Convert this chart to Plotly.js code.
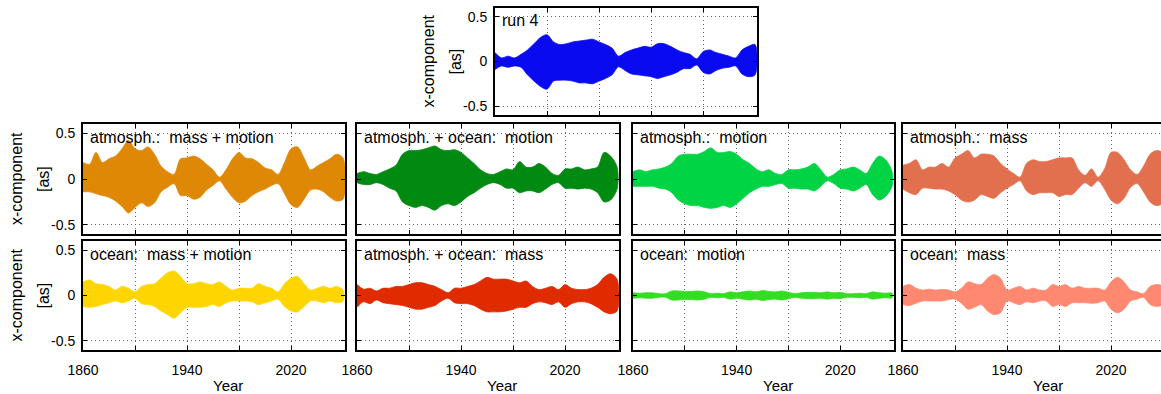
<!DOCTYPE html>
<html><head><meta charset="utf-8">
<script src="https://cdn.plot.ly/plotly-3.0.1.min.js"></script>
<style>html,body{margin:0;padding:0;overflow:hidden;background:#fff}#chart{width:1170px;height:394px}</style>
</head><body><div id="chart"></div>
<script>
// ---- data (envelope of the x-component signal) ----
const years = [1860,1865,1870,1875,1880,1885,1890,1895,1900,1905,1910,1915,1920,1925,1930,1935,1940,1945,1950,1955,1960,1965,1970,1975,1980,1985,1990,1995,2000,2005,2010,2015,2020,2025,2030,2035,2040,2045,2050,2055,2060];

const run4Upper = [0.10,0.04,0.06,0.04,0.08,0.13,0.20,0.27,0.30,0.22,0.19,0.20,0.22,0.23,0.24,0.25,0.22,0.19,0.15,0.06,0.10,0.13,0.15,0.17,0.16,0.20,0.20,0.17,0.13,0.10,0.08,0.03,0.11,0.13,0.10,0.08,0.06,0.04,0.13,0.17,0.19];
const run4Lower = [-0.09,-0.05,-0.065,-0.05,-0.065,-0.15,-0.22,-0.28,-0.31,-0.22,-0.21,-0.21,-0.22,-0.24,-0.24,-0.25,-0.22,-0.19,-0.15,-0.06,-0.10,-0.14,-0.15,-0.16,-0.17,-0.19,-0.17,-0.15,-0.12,-0.08,-0.08,-0.04,-0.12,-0.14,-0.10,-0.075,-0.065,-0.05,-0.14,-0.17,-0.15];

const atmMassMotionUpper = [0.18,0.16,0.29,0.18,0.22,0.25,0.33,0.42,0.33,0.31,0.35,0.27,0.14,0.08,0.05,0.22,0.23,0.25,0.22,0.16,0.10,0.02,0.10,0.22,0.29,0.23,0.22,0.18,0.12,0.10,0.05,0.18,0.33,0.35,0.23,0.10,0.14,0.18,0.22,0.27,0.23];
const atmMassMotionLower = [-0.14,-0.14,-0.16,-0.18,-0.20,-0.24,-0.30,-0.37,-0.31,-0.26,-0.30,-0.26,-0.14,-0.09,-0.05,-0.18,-0.18,-0.22,-0.20,-0.12,-0.07,-0.02,-0.11,-0.20,-0.26,-0.24,-0.18,-0.14,-0.11,-0.07,-0.05,-0.16,-0.28,-0.31,-0.22,-0.12,-0.11,-0.14,-0.20,-0.24,-0.22];

const atmOcnMotionUpper = [0.06,0.08,0.06,0.05,0.08,0.11,0.15,0.27,0.31,0.31,0.32,0.34,0.36,0.32,0.31,0.32,0.29,0.23,0.17,0.10,0.06,0.05,0.08,0.11,0.10,0.19,0.13,0.13,0.17,0.13,0.06,0.04,0.11,0.11,0.13,0.10,0.11,0.13,0.29,0.25,0.13];
const atmOcnMotionLower = [-0.04,-0.06,-0.06,-0.04,-0.06,-0.10,-0.13,-0.25,-0.29,-0.31,-0.29,-0.31,-0.34,-0.29,-0.27,-0.29,-0.25,-0.19,-0.15,-0.10,-0.06,-0.04,-0.06,-0.10,-0.10,-0.15,-0.13,-0.13,-0.15,-0.11,-0.06,-0.04,-0.10,-0.10,-0.11,-0.10,-0.11,-0.15,-0.25,-0.23,-0.11];

const atmMotionUpper = [0.08,0.10,0.08,0.10,0.11,0.13,0.17,0.25,0.27,0.27,0.27,0.30,0.34,0.29,0.29,0.30,0.27,0.21,0.17,0.11,0.08,0.10,0.06,0.05,0.10,0.10,0.11,0.13,0.17,0.10,0.02,0.05,0.10,0.11,0.13,0.10,0.06,0.17,0.25,0.21,0.08];
const atmMotionLower = [-0.08,-0.08,-0.08,-0.08,-0.10,-0.11,-0.15,-0.23,-0.27,-0.29,-0.29,-0.31,-0.32,-0.31,-0.29,-0.31,-0.27,-0.21,-0.15,-0.11,-0.08,-0.08,-0.06,-0.05,-0.10,-0.10,-0.11,-0.11,-0.13,-0.08,-0.02,-0.05,-0.10,-0.11,-0.13,-0.10,-0.06,-0.17,-0.23,-0.19,-0.08];

const atmMassUpper = [0.15,0.17,0.21,0.10,0.13,0.13,0.17,0.13,0.23,0.27,0.31,0.23,0.27,0.27,0.25,0.17,0.11,0.06,0.02,0.17,0.21,0.19,0.19,0.21,0.23,0.23,0.23,0.10,0.04,0.11,0.02,0.11,0.29,0.29,0.21,0.10,0.05,0.14,0.27,0.31,0.28];
const atmMassLower = [-0.11,-0.15,-0.17,-0.10,-0.10,-0.11,-0.11,-0.13,-0.17,-0.23,-0.25,-0.23,-0.17,-0.19,-0.21,-0.15,-0.10,-0.06,-0.02,-0.13,-0.17,-0.15,-0.15,-0.15,-0.19,-0.17,-0.17,-0.10,-0.04,-0.08,-0.02,-0.11,-0.23,-0.27,-0.21,-0.09,-0.05,-0.14,-0.25,-0.29,-0.26];

const ocnMassMotionUpper = [0.15,0.17,0.13,0.12,0.10,0.06,0.10,0.08,0.04,0.10,0.12,0.13,0.19,0.25,0.27,0.21,0.13,0.13,0.15,0.13,0.12,0.15,0.10,0.06,0.08,0.08,0.08,0.13,0.10,0.08,0.04,0.13,0.19,0.21,0.13,0.06,0.08,0.10,0.08,0.10,0.06];
const ocnMassMotionLower = [-0.12,-0.13,-0.12,-0.10,-0.08,-0.06,-0.08,-0.06,-0.03,-0.09,-0.10,-0.12,-0.17,-0.21,-0.25,-0.19,-0.13,-0.13,-0.13,-0.12,-0.10,-0.12,-0.08,-0.06,-0.06,-0.06,-0.07,-0.10,-0.08,-0.06,-0.04,-0.12,-0.17,-0.18,-0.12,-0.06,-0.06,-0.08,-0.06,-0.08,-0.06];

const atmOcnMassUpper = [0.12,0.07,0.08,0.05,0.08,0.08,0.10,0.10,0.12,0.14,0.14,0.12,0.10,0.065,0.03,0.08,0.08,0.10,0.12,0.16,0.20,0.18,0.18,0.18,0.16,0.14,0.16,0.10,0.065,0.08,0.10,0.065,0.12,0.08,0.065,0.065,0.08,0.12,0.20,0.24,0.18];
const atmOcnMassLower = [-0.13,-0.07,-0.09,-0.05,-0.08,-0.09,-0.10,-0.11,-0.13,-0.15,-0.15,-0.13,-0.11,-0.06,-0.03,-0.08,-0.09,-0.09,-0.11,-0.15,-0.18,-0.18,-0.18,-0.17,-0.15,-0.13,-0.13,-0.09,-0.07,-0.08,-0.10,-0.07,-0.13,-0.09,-0.07,-0.07,-0.09,-0.13,-0.18,-0.20,-0.17];

const ocnMotionUpper = [0.03,0.025,0.03,0.03,0.02,0.02,0.05,0.05,0.045,0.045,0.05,0.04,0.02,0.025,0.02,0.04,0.03,0.04,0.05,0.04,0.055,0.045,0.04,0.05,0.035,0.02,0.03,0.035,0.035,0.03,0.04,0.03,0.035,0.02,0.02,0.025,0.02,0.04,0.03,0.025,0.025];
const ocnMotionLower = [-0.03,-0.025,-0.03,-0.03,-0.02,-0.02,-0.05,-0.05,-0.045,-0.045,-0.05,-0.04,-0.02,-0.025,-0.02,-0.04,-0.03,-0.04,-0.05,-0.04,-0.055,-0.045,-0.04,-0.05,-0.035,-0.02,-0.03,-0.035,-0.035,-0.03,-0.04,-0.03,-0.035,-0.02,-0.02,-0.025,-0.02,-0.04,-0.03,-0.025,-0.025];

const ocnMassUpper = [0.10,0.12,0.08,0.06,0.07,0.06,0.065,0.06,0.04,0.08,0.15,0.13,0.12,0.19,0.23,0.19,0.06,0.08,0.10,0.06,0.08,0.06,0.06,0.12,0.10,0.12,0.08,0.10,0.08,0.08,0.08,0.06,0.15,0.20,0.15,0.06,0.04,0.02,0.10,0.12,0.10];
const ocnMassLower = [-0.10,-0.11,-0.085,-0.06,-0.06,-0.06,-0.06,-0.045,-0.04,-0.085,-0.15,-0.13,-0.10,-0.17,-0.21,-0.19,-0.06,-0.08,-0.10,-0.07,-0.08,-0.06,-0.06,-0.12,-0.10,-0.12,-0.08,-0.08,-0.08,-0.085,-0.08,-0.06,-0.15,-0.19,-0.15,-0.06,-0.04,-0.02,-0.10,-0.12,-0.10];

const panelLabels = ['run 4','atmosph.:\u00a0 mass + motion','atmosph. + ocean:\u00a0 motion','atmosph.:\u00a0 motion','atmosph.:\u00a0 mass','ocean:\u00a0 mass + motion','atmosph. + ocean:\u00a0 mass','ocean:\u00a0 motion','ocean:\u00a0 mass'];
const yTickValues = [-0.5, 0, 0.5];
const yTickLabels = ['-0.5', '0', '0.5'];
const xTickValues = [1860, 1900, 1940, 1980, 2020];
const xTickLabels = ['1860', '', '1940', '', '2020'];
const yLabelLine1 = 'x-component';
const yLabelLine2 = '[as]';
const xLabel = 'Year';

// ---- layout geometry ----
const W = 1170, H = 394;
const FONT = 'Liberation Sans, Arial, sans-serif';
const cols = [[83,345],[357,619],[633,894],[903,1165]];
const rowMid = [124,234], rowBot = [241,350], rowTop = [8,115];
const topCol = [495,757];

const series = [
  {up: run4Upper, lo: run4Lower, color: '#0a0af0', box: [topCol, rowTop], ylab: true, xlab: false},
  {up: atmMassMotionUpper, lo: atmMassMotionLower, color: '#de8805', box: [cols[0], rowMid], ylab: true, xlab: false},
  {up: atmOcnMotionUpper, lo: atmOcnMotionLower, color: '#008a12', box: [cols[1], rowMid], ylab: false, xlab: false},
  {up: atmMotionUpper, lo: atmMotionLower, color: '#00d444', box: [cols[2], rowMid], ylab: false, xlab: false},
  {up: atmMassUpper, lo: atmMassLower, color: '#e2704f', box: [cols[3], rowMid], ylab: false, xlab: false},
  {up: ocnMassMotionUpper, lo: ocnMassMotionLower, color: '#ffd500', box: [cols[0], rowBot], ylab: true, xlab: true},
  {up: atmOcnMassUpper, lo: atmOcnMassLower, color: '#e02a00', box: [cols[1], rowBot], ylab: false, xlab: true},
  {up: ocnMotionUpper, lo: ocnMotionLower, color: '#33dd22', box: [cols[2], rowBot], ylab: false, xlab: true},
  {up: ocnMassUpper, lo: ocnMassLower, color: '#ff8870', box: [cols[3], rowBot], ylab: false, xlab: true}
];

const traces = [];
const layout = {
  width: W, height: H, margin: {l:0, r:0, t:0, b:0},
  paper_bgcolor: '#fff', plot_bgcolor: '#fff', showlegend: false,
  font: {family: FONT, size: 14, color: '#000'},
  annotations: []
};

const common = {
  showline: true, linewidth: 2, linecolor: '#000', mirror: 'ticks',
  ticks: 'inside', ticklen: 4, tickwidth: 1, tickcolor: '#000',
  showgrid: true, gridcolor: '#666', gridwidth: 1, griddash: '1px,3px',
  zeroline: false, fixedrange: true,
  tickfont: {family: FONT, size: 14, color: '#000'}
};

series.forEach((s, i) => {
  const ax = i === 0 ? '' : String(i + 1);
  const [xb, yb] = s.box;
  traces.push({
    type: 'scatter', mode: 'lines',
    x: years.concat(years.slice().reverse()),
    y: s.up.concat(s.lo.slice().reverse()),
    xaxis: 'x' + ax, yaxis: 'y' + ax,
    fill: 'toself', fillcolor: s.color,
    line: {color: s.color, width: 0.8, shape: 'spline', smoothing: 0.9},
    hoverinfo: 'skip'
  });
  layout['xaxis' + ax] = Object.assign({}, common, {
    domain: [xb[0] / W, xb[1] / W], range: [1860, 2061.5],
    tickmode: 'array', tickvals: xTickValues, ticktext: xTickLabels,
    showticklabels: s.xlab, ticklabelstandoff: 6,
    anchor: 'y' + ax
  });
  layout['yaxis' + ax] = Object.assign({}, common, {
    domain: [1 - yb[1] / H, 1 - yb[0] / H], range: [-0.6, 0.6],
    tickmode: 'array', tickvals: yTickValues, ticktext: yTickLabels,
    showticklabels: s.ylab, ticklabelstandoff: 3,
    anchor: 'x' + ax
  });
  // panel label
  layout.annotations.push({
    xref: 'paper', yref: 'paper', x: (xb[0] + 5) / W, y: 1 - (yb[0] + 13) / H,
    xanchor: 'left', yanchor: 'middle', showarrow: false,
    text: panelLabels[i], font: {family: FONT, size: 16, color: '#000'}
  });
  if (s.ylab) {
    layout.annotations.push({
      xref: 'paper', yref: 'paper', x: (xb[0] - 67) / W, y: 1 - ((yb[0] + yb[1]) / 2) / H,
      xanchor: 'center', yanchor: 'middle', showarrow: false, textangle: -90,
      text: yLabelLine1, font: {family: FONT, size: 16, color: '#000'}
    });
    layout.annotations.push({
      xref: 'paper', yref: 'paper', x: (xb[0] - 40) / W, y: 1 - ((yb[0] + yb[1]) / 2) / H,
      xanchor: 'center', yanchor: 'middle', showarrow: false, textangle: -90,
      text: yLabelLine2, font: {family: FONT, size: 16, color: '#000'}
    });
  }
  if (s.xlab) {
    layout.annotations.push({
      xref: 'paper', yref: 'paper', x: (xb[0] + 145) / W, y: 1 - 385 / H,
      xanchor: 'center', yanchor: 'middle', showarrow: false,
      text: xLabel, font: {family: FONT, size: 15, color: '#000'}
    });
  }
});

Plotly.newPlot('chart', traces, layout, {displayModeBar: false, staticPlot: true});
</script>
</body></html>
